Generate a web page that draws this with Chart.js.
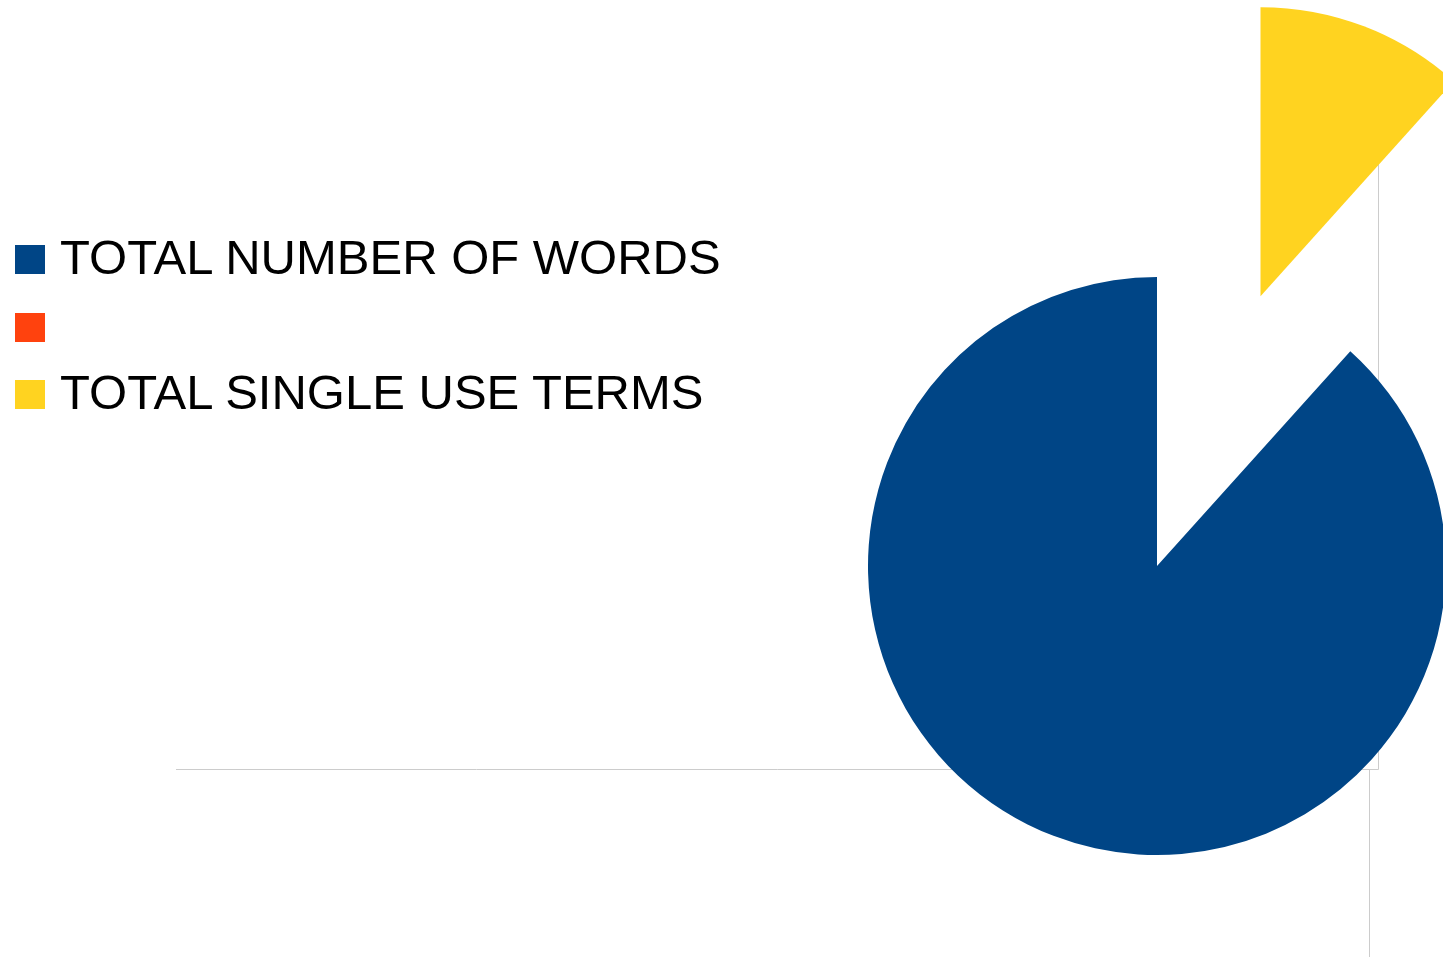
<!DOCTYPE html>
<html>
<head>
<meta charset="utf-8">
<script src="https://cdn.jsdelivr.net/npm/chart.js@4.4.1/dist/chart.umd.min.js"></script>
<style>
  html, body { margin: 0; padding: 0; background: #ffffff; }
  #wrap { position: relative; width: 1443px; height: 957px; overflow: hidden; }
  #legend { position: absolute; left: 0; top: 224.3px; font-family: "Liberation Sans", Arial, sans-serif; font-size: 49px; color: #000; }
  .row { position: relative; height: 67.5px; line-height: 67.5px; white-space: nowrap; }
  .box { position: absolute; left: 15px; top: 21px; width: 30px; height: 29px; }
  .txt { position: absolute; left: 60px; top: 0; }
</style>
</head>
<body>
<div id="wrap">
  <canvas id="myChart"></canvas>
  <div id="legend"></div>
</div>
<script>
const etiquetas = ["TOTAL NUMBER OF WORDS", "", "TOTAL SINGLE USE TERMS"]
const valores = [1000, 0, 132]
const colores = ["#004586", "#ff420e", "#ffd320"]
const separacion = [0, 0, 289]   // la porcion amarilla esta separada del centro (px)
const radio = 289

const ctx = document.getElementById('myChart');
const leyenda = document.getElementById('legend');

var total = 0
for (let i = 0; i < valores.length; i++) {
    total += valores[i]
}
// el azul empieza donde termina el amarillo (LibreOffice gira al reves)
var giro = 360 * valores[2] / total

for (let i = 0; i < etiquetas.length; i++) {
    leyenda.innerHTML += `<div class="row"><span class="box" style="background:${colores[i]}"></span><span class="txt">${etiquetas[i]}</span></div>`
}

// el offset de Chart.js achica el angulo y agranda el radio,
// asi que movemos el centro de la porcion a mano sobre su angulo medio
const separar = {
    id: 'separar',
    afterDatasetsUpdate(chart) {
        const arcos = chart.getDatasetMeta(0).data
        arcos.forEach((arco, i) => {
            if (!separacion[i]) return
            const medio = (arco.startAngle + arco.endAngle) / 2
            arco.x += Math.cos(medio) * separacion[i]
            arco.y += Math.sin(medio) * separacion[i]
        })
    }
}

// lineas grises tenues del fondo
const fondo = {
    id: 'fondo',
    beforeDatasetsDraw(chart) {
        const c = chart.ctx
        c.save()
        c.strokeStyle = '#cccccc'
        c.lineWidth = 1
        c.beginPath()
        c.moveTo(176, 769.5); c.lineTo(1378.5, 769.5)
        c.moveTo(1378.5, 90); c.lineTo(1378.5, 769.5)
        c.moveTo(1369.5, 769.5); c.lineTo(1369.5, 957)
        c.stroke()
        c.restore()
    }
}

new Chart(ctx, {
    type: 'pie',
    data: {
        labels: etiquetas,
        datasets: [{
            data: valores,
            backgroundColor: colores,
            borderWidth: 0,
            clip: false
        }]
    },
    options: {
        responsive: true,
        maintainAspectRatio: false,
        animation: false,
        rotation: giro,
        radius: radio,
        layout: {
            padding: { left: 871, right: 0, top: 175, bottom: 0 }
        },
        plugins: {
            legend: { display: false },
            tooltip: { enabled: false }
        }
    },
    plugins: [fondo, separar]
});
</script>
</body>
</html>
